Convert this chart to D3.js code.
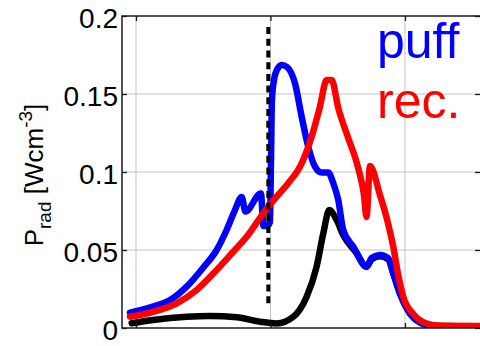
<!DOCTYPE html>
<html><head><meta charset="utf-8">
<script src="https://cdn.jsdelivr.net/npm/d3@7"></script>
<style>html,body{margin:0;padding:0;background:#fff;} svg{display:block;}</style>
</head><body>
<script>
// ---- data (x in grid units: gridlines at 0,1,2; y in W cm^-3) ----
const yTicks = [0, 0.05, 0.1, 0.15, 0.2];
const yTickLabels = ["0", "0.05", "0.1", "0.15", "0.2"];
const xGrid = [0, 1, 2];

const puffX = [-0.045,0.126,0.253,0.377,0.498,0.600,0.674,0.736,0.786,0.814,0.929,0.948,0.974,0.996,1.004,1.011,1.026,1.048,1.083,1.123,1.182,1.232,1.281,1.331,1.381,1.430,1.467,1.504,1.541,1.616,1.715,1.752,1.814,1.876,1.913,1.963,2.037,2.112,2.186,2.297,2.558];
const puffY = [0.0098,0.0137,0.0179,0.0265,0.0385,0.050,0.0628,0.0756,0.0840,0.0747,0.0862,0.0654,0.0654,0.0679,0.1077,0.1462,0.159,0.1654,0.1686,0.1673,0.1569,0.1354,0.1162,0.1034,0.0996,0.0996,0.0928,0.0821,0.0628,0.0521,0.0393,0.0449,0.0468,0.0447,0.0351,0.0222,0.0094,0.0035,0.0016,0.001,0.001];

const recX = [-0.045,0.126,0.303,0.451,0.600,0.723,0.823,0.946,1.046,1.132,1.232,1.306,1.368,1.418,1.455,1.504,1.578,1.652,1.695,1.714,1.740,1.814,1.864,1.913,1.950,1.987,2.062,2.161,2.260,2.558];
const recY = [0.0072,0.0104,0.0158,0.0244,0.0372,0.0489,0.0585,0.0735,0.0842,0.0928,0.1056,0.1226,0.1419,0.159,0.159,0.1410,0.1218,0.1026,0.0853,0.0712,0.1038,0.0853,0.0705,0.0521,0.034,0.0201,0.009,0.0029,0.0015,0.0013];

const baseX = [-0.032,0.126,0.377,0.550,0.749,0.922,1.046,1.170,1.269,1.343,1.393,1.437,1.492,1.541,1.641,1.715,1.752,1.814,1.876,1.913,1.963,2.037,2.112,2.186,2.558];
const baseY = [0.003,0.0051,0.0072,0.0077,0.0069,0.004,0.0029,0.0072,0.0201,0.0393,0.0607,0.0756,0.0692,0.0596,0.0479,0.0393,0.044,0.046,0.044,0.035,0.022,0.0094,0.0035,0.0016,0.001];

const markerX = 0.984;
const markerYRange = [0.0128, 0.1929];

const legendLabels = ["puff", "rec."];
const yLabelMain = "P", yLabelSub = "rad", yLabelUnit = " [Wcm", yLabelSup = "-3", yLabelEnd = "]";

// ---- layout ----
const W = 480, H = 346;
const L = 122, R = 480, T = 16, B = 328;
const font = "'Liberation Sans', Arial, Helvetica, sans-serif";

const svg = d3.select("body").append("svg").attr("width", W).attr("height", H);
const x = d3.scaleLinear().domain([-0.104, 2.558]).range([L, R]);
const y = d3.scaleLinear().domain([0, 0.2]).range([B, T]);

svg.append("defs").append("clipPath").attr("id","clip")
  .append("rect").attr("x", L).attr("y", T).attr("width", R-L).attr("height", B-T);

// grid
const grid = svg.append("g");
grid.selectAll(".gy").data(yTicks.slice(1,-1)).join("line")
  .attr("x1", L).attr("x2", R).attr("y1", d=>y(d)).attr("y2", d=>y(d))
  .attr("stroke", "#c4c4c4").attr("stroke-width", 1);
grid.selectAll(".gx").data(xGrid).join("line")
  .attr("x1", d=>x(d)).attr("x2", d=>x(d)).attr("y1", T).attr("y2", B)
  .attr("stroke", "#c4c4c4").attr("stroke-width", 1);

// curves
const line = d3.line().x(d=>x(d[0])).y(d=>y(d[1])).curve(d3.curveMonotoneX);
const plot = svg.append("g").attr("clip-path","url(#clip)");
const series = [
  {xs: baseX, ys: baseY, color: "#000000"},
  {xs: puffX, ys: puffY, color: "#0000ff"},
  {xs: recX, ys: recY, color: "#ff0000"}
];
series.forEach(s => {
  plot.append("path").datum(s.xs.map((v,i)=>[v, s.ys[i]]))
    .attr("d", line).attr("fill","none").attr("stroke", s.color)
    .attr("stroke-width", 6.5).attr("stroke-linejoin","round").attr("stroke-linecap","round");
});

// dashed marker
plot.append("line")
  .attr("x1", x(markerX)).attr("x2", x(markerX))
  .attr("y1", y(markerYRange[1])).attr("y2", y(markerYRange[0]))
  .attr("stroke", "#000").attr("stroke-width", 4).attr("stroke-dasharray", "7,4.7");

// axes box
svg.append("rect").attr("x", L).attr("y", T).attr("width", R-L+2).attr("height", B-T)
  .attr("fill","none").attr("stroke","#1a1a1a").attr("stroke-width", 1.5);

// ticks (inward)
const tk = 5;
const yAxisL = d3.axisRight(y).tickValues(yTicks).tickSize(tk).tickFormat("");
svg.append("g").attr("transform", `translate(${L},0)`).call(yAxisL)
  .call(g=>g.select(".domain").remove()).selectAll("line").attr("stroke","#1a1a1a").attr("stroke-width",1.3);
const yAxisR = d3.axisLeft(y).tickValues(yTicks).tickSize(tk).tickFormat("");
svg.append("g").attr("transform", `translate(${R},0)`).call(yAxisR)
  .call(g=>g.select(".domain").remove()).selectAll("line").attr("stroke","#1a1a1a").attr("stroke-width",1.3);
const xAxisB = d3.axisTop(x).tickValues(xGrid).tickSize(tk).tickFormat("");
svg.append("g").attr("transform", `translate(0,${B})`).call(xAxisB)
  .call(g=>g.select(".domain").remove()).selectAll("line").attr("stroke","#1a1a1a").attr("stroke-width",1.3);
const xAxisT = d3.axisBottom(x).tickValues(xGrid).tickSize(tk).tickFormat("");
svg.append("g").attr("transform", `translate(0,${T})`).call(xAxisT)
  .call(g=>g.select(".domain").remove()).selectAll("line").attr("stroke","#1a1a1a").attr("stroke-width",1.3);

// y tick labels
svg.append("g").selectAll("text").data(yTicks).join("text")
  .attr("x", 118).attr("y", d=>y(d)+12)
  .attr("text-anchor","end").attr("font-family", font).attr("font-size", 28).attr("fill","#000")
  .text((d,i)=>yTickLabels[i]);

// y label
const yl = svg.append("text")
  .attr("transform", "translate(43,175) rotate(-90)")
  .attr("text-anchor","middle").attr("font-family", font).attr("font-size", 26).attr("fill","#000");
yl.append("tspan").text(yLabelMain);
yl.append("tspan").attr("font-size", 19).attr("dy", 8).text(yLabelSub);
yl.append("tspan").attr("dy", -8).text(yLabelUnit);
yl.append("tspan").attr("font-size", 19).attr("dy", -11).text(yLabelSup);
yl.append("tspan").attr("dy", 11).text(yLabelEnd);

// legend texts
svg.append("text").attr("x", 377).attr("y", 58).attr("font-family", font).attr("font-size", 50)
  .attr("fill", "#0000ff").text(legendLabels[0]);
svg.append("text").attr("x", 377).attr("y", 118).attr("font-family", font).attr("font-size", 50)
  .attr("fill", "#ff0000").text(legendLabels[1]);
</script>
</body></html>
